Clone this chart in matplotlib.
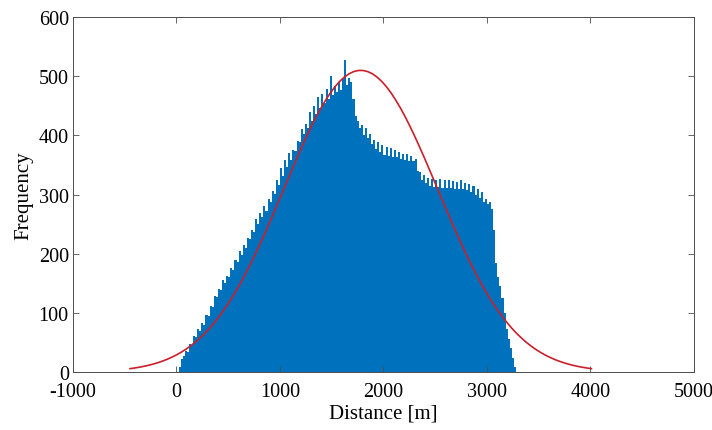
import numpy as np
import matplotlib
matplotlib.use("Agg")
import matplotlib.pyplot as plt

# Histogram of distances, 20 m bins starting at 20 m (counts)
BIN_START = 20
BIN_WIDTH = 20
counts = [
    8, 22, 27, 36, 34, 47, 46, 60, 59, 72,
    70, 82, 80, 96, 95, 112, 110, 128, 127, 141,
    139, 156, 150, 163, 161, 176, 173, 190, 186, 205,
    197, 214, 209, 226, 224, 240, 237, 258, 250, 268,
    262, 280, 272, 292, 287, 306, 301, 325, 316, 345,
    332, 358, 347, 370, 359, 376, 373, 390, 388, 410,
    402, 420, 413, 440, 424, 450, 437, 465, 446, 470,
    455, 478, 462, 500, 468, 484, 473, 490, 477, 495,
    528, 486, 497, 490, 462, 432, 425, 412, 418, 401,
    412, 396, 403, 385, 392, 377, 388, 372, 384, 367,
    380, 366, 378, 364, 376, 363, 372, 360, 369, 359,
    368, 357, 366, 356, 360, 340, 338, 325, 333, 319,
    328, 315, 326, 313, 324, 312, 327, 311, 324, 311,
    325, 311, 323, 310, 322, 310, 324, 309, 320, 308,
    318, 305, 314, 300, 310, 294, 305, 288, 293, 284,
    287, 276, 240, 185, 160, 145, 125, 100, 72, 55,
    40, 24, 9,
]

# Normal fit parameters (histfit-style red curve)
FIT_MU = 1780.0
FIT_SIGMA = 743.0
FIT_PEAK = 510.0

x_ticks = [-1000, 0, 1000, 2000, 3000, 4000, 5000]
y_ticks = [0, 100, 200, 300, 400, 500, 600]

plt.rcParams['font.family'] = ['Liberation Serif', 'DejaVu Serif']
plt.rcParams['axes.unicode_minus'] = False

fig = plt.figure(figsize=(7.12, 4.31), dpi=100)
ax = fig.add_axes([0.1025, 0.1346, 0.8722, 0.8234])

edges = BIN_START + BIN_WIDTH * np.arange(len(counts) + 1)
ax.stairs(counts, edges, fill=True, color='#0072BD', linewidth=0)

xf = np.linspace(FIT_MU - 3 * FIT_SIGMA, FIT_MU + 3 * FIT_SIGMA, 100)
yf = FIT_PEAK * np.exp(-0.5 * ((xf - FIT_MU) / FIT_SIGMA) ** 2)
ax.plot(xf, yf, color='#CC1F2A', linewidth=1.2)

ax.set_xlim(-1000, 5000)
ax.set_ylim(0, 600)
ax.set_xticks(x_ticks)
ax.set_yticks(y_ticks)
ax.tick_params(direction='in', top=True, right=True, labelsize=14.5,
               length=4, width=0.6, color='#4d4d4d')
ax.tick_params(axis='x', pad=7)
ax.tick_params(axis='y', pad=3)
for s in ax.spines.values():
    s.set_color('#4d4d4d')
    s.set_linewidth(0.7)

ax.set_xlabel('Distance [m]', fontsize=15, labelpad=2)
ax.set_ylabel('Frequency', fontsize=15, labelpad=4)

fig.savefig('out.png', dpi=100)
